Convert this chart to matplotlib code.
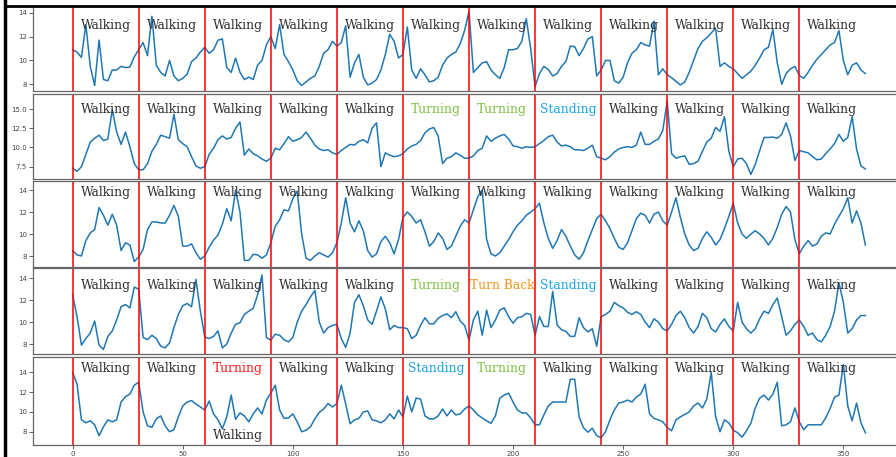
import numpy as np
import matplotlib.pyplot as plt
from matplotlib.transforms import blended_transform_factory

# one sample every 2 time steps, 0..360
t = np.arange(0, 361, 2)

row1 = [10.9, 10.7, 10.25, 13.0, 9.5, 7.9, 11.7, 8.4, 8.3, 9.2, 9.2, 9.5, 9.4, 9.45, 10.3,
        10.9, 11.5, 10.4, 13.7, 9.6, 9.0, 8.7, 10.0, 8.7, 8.3, 8.5, 8.85, 9.9, 10.2, 10.7,
        11.1, 10.6, 10.9, 11.7, 11.8, 9.4, 9.0, 10.2, 9.0, 8.4, 8.6, 8.4, 9.6, 10.0, 11.3,
        12.0, 11.0, 13.0, 10.5, 9.9, 9.2, 8.3, 7.9, 8.2, 8.5, 8.7, 9.5, 10.6, 10.9, 11.6,
        11.2, 11.5, 12.9, 8.6, 9.8, 10.5, 8.6, 7.95, 8.1, 8.4, 9.2, 10.5, 12.2, 11.6, 10.2,
        10.5, 12.8, 9.2, 8.5, 9.3, 8.8, 8.2, 8.3, 8.6, 9.6, 10.2, 10.5, 10.7, 11.4, 12.5,
        14.1, 9.0, 9.4, 9.8, 9.9, 9.2, 8.8, 8.5, 9.4, 10.9, 10.9, 11.0, 11.6, 13.5, 11.0,
        7.8, 8.9, 9.5, 9.25, 8.7, 8.9, 9.5, 9.9, 11.2, 11.15, 10.4, 11.0, 11.8, 12.0, 8.7,
        9.2, 10.0, 10.0, 8.3, 8.1, 8.6, 9.8, 10.6, 10.9, 11.5, 11.3, 11.2, 13.3, 8.8, 9.3,
        8.8, 8.55, 8.25, 7.95, 8.2, 9.0, 10.0, 11.0, 11.6, 11.9, 12.3, 12.7, 9.5, 9.8, 9.5,
        9.3, 8.9, 8.5, 8.8, 9.1, 9.6, 10.2, 10.9, 11.1, 12.6, 9.8, 8.0, 8.9, 9.3, 9.5,
        8.75, 8.5, 9.0, 9.6, 10.1, 10.5, 10.9, 11.3, 11.5, 12.5, 10.0, 8.8, 9.6, 9.8, 9.2,
        8.9]

row2 = [7.3, 6.9, 7.5, 9.1, 10.7, 11.2, 11.6, 10.9, 11.1, 14.9, 12.0, 10.4, 12.0, 10.1, 7.9,
        7.1, 7.1, 7.9, 9.5, 10.4, 11.6, 11.4, 11.2, 14.3, 11.0, 10.5, 10.1, 8.8, 7.6, 7.3,
        7.5, 9.1, 9.9, 11.0, 11.5, 11.1, 11.3, 12.5, 13.3, 9.0, 9.8, 9.2, 8.9, 8.5, 8.2,
        8.6, 9.9, 9.7, 10.5, 11.4, 10.8, 11.0, 11.3, 12.0, 11.2, 10.3, 9.8, 9.6, 9.7, 9.3,
        9.1, 9.6, 10.0, 10.4, 10.3, 10.8, 11.0, 10.6, 12.5, 13.2, 7.5, 9.3, 9.0, 8.8, 8.9,
        9.2, 9.8, 10.2, 10.4, 10.9, 11.9, 12.4, 12.6, 11.5, 7.9, 8.6, 8.8, 9.3, 9.0, 8.6,
        8.6, 8.9, 9.6, 9.9, 11.5, 10.8, 11.2, 11.5, 11.7, 11.1, 10.2, 10.1, 9.9, 10.1, 10.0,
        10.1, 10.5, 10.9, 11.4, 11.6, 10.7, 10.2, 10.3, 10.1, 9.7, 9.7, 9.6, 9.9, 10.3, 8.8,
        8.6, 8.4, 8.8, 9.4, 9.8, 10.0, 10.1, 10.0, 10.3, 12.0, 10.4, 10.4, 10.8, 11.1, 12.2,
        16.0, 9.2, 8.6, 8.8, 8.9, 7.8, 7.9, 8.2, 9.5, 10.7, 11.2, 12.6, 12.1, 14.0, 9.5,
        7.5, 8.5, 8.6, 7.9, 6.5, 7.8, 9.6, 11.3, 11.3, 11.35, 11.2, 11.7, 13.2, 11.5, 8.3,
        9.6, 9.45, 9.3, 8.8, 8.4, 8.5, 9.2, 9.8, 10.5, 11.7, 10.8, 11.3, 14.0, 9.8, 7.6,
        7.2]

row3 = [8.5, 8.1, 8.0, 9.4, 10.1, 10.4, 12.4, 11.7, 10.8, 11.8, 10.8, 8.5, 9.2, 9.0, 7.5,
        7.9, 8.6, 10.4, 11.1, 11.1, 11.0, 11.0, 11.7, 12.6, 11.6, 8.9, 8.9, 9.1, 8.3, 7.7,
        8.0, 8.8, 9.45, 9.9, 10.9, 12.3, 11.2, 14.0, 12.0, 7.6, 7.6, 8.15, 8.1, 7.8, 8.1,
        9.2, 10.7, 11.3, 12.2, 12.1, 13.2, 13.9, 10.0, 7.8, 7.6, 8.0, 8.3, 8.1, 7.9, 8.3,
        9.2, 11.0, 13.3, 11.0, 10.2, 11.2, 10.3, 8.5, 7.9, 8.2, 9.3, 9.8, 9.2, 8.2, 9.5,
        11.5, 12.0, 11.6, 11.0, 11.3, 10.2, 8.9, 9.3, 10.1, 9.6, 8.6, 8.9, 9.8, 10.7, 11.3,
        11.0, 12.2, 13.4, 14.0, 9.5, 8.2, 8.0, 8.3, 8.9, 9.5, 10.2, 10.8, 11.2, 11.7, 12.0,
        12.3, 12.8, 11.0, 9.6, 8.7, 9.4, 10.4, 9.8, 8.9, 8.1, 7.7, 8.3, 9.4, 10.4, 11.4,
        11.8, 11.2, 10.5, 9.6, 8.8, 8.6, 9.2, 10.3, 11.4, 11.9, 11.7, 11.0, 11.8, 12.0, 11.2,
        10.8, 12.0, 13.3, 11.5, 10.0, 9.0, 8.5, 8.7, 9.6, 10.2, 9.7, 9.0, 9.5, 10.5, 11.6,
        12.8, 11.0, 10.0, 9.6, 10.0, 10.3, 10.0, 9.6, 9.0, 9.6, 10.6, 11.8, 12.5, 12.0, 9.5,
        8.2, 8.9, 9.4, 8.9, 9.1, 9.8, 10.1, 10.0, 10.9, 11.6, 12.3, 13.3, 11.0, 12.1, 11.0,
        9.0]

row4 = [12.5, 10.5, 7.9, 8.5, 9.0, 10.1, 7.9, 7.5, 8.7, 9.2, 10.2, 11.4, 11.6, 11.3, 13.2,
        13.0, 8.6, 8.4, 8.8, 8.5, 7.8, 7.65, 8.1, 9.5, 10.7, 11.5, 11.7, 11.4, 13.9, 11.0,
        8.65, 8.5, 8.7, 9.2, 7.65, 8.0, 9.0, 9.8, 9.95, 10.7, 11.0, 11.25, 12.5, 14.3, 8.6,
        8.35, 8.9, 8.8, 8.4, 8.2, 8.6, 10.0, 11.0, 11.6, 12.3, 12.9, 10.0, 9.0, 9.5, 9.7,
        9.8, 8.5, 7.7, 9.0, 11.8, 12.5, 11.5, 10.2, 9.8, 11.0, 12.3, 11.2, 9.3, 9.7, 9.5,
        9.5, 9.4, 8.5, 8.8, 9.7, 10.4, 9.85, 9.85, 10.35, 10.6, 10.75, 10.4, 10.95, 10.1, 9.7,
        8.35, 10.2, 11.0, 8.8, 11.1, 9.5, 10.2, 11.1, 11.3, 10.5, 9.9, 10.4, 10.5, 10.8, 10.7,
        8.8, 10.5, 9.6, 9.6, 12.8, 9.75, 9.3, 9.15, 8.7, 8.7, 10.4, 9.5, 9.1, 9.4, 7.8,
        10.5, 10.7, 11.0, 11.8, 11.5, 11.3, 10.9, 10.7, 10.95, 10.7, 10.0, 9.5, 10.3, 10.0, 9.4,
        9.2, 9.8, 10.6, 11.0, 10.4, 9.5, 9.0, 9.6, 10.8, 10.4, 9.4, 9.1, 9.8, 10.3, 9.6,
        9.2, 11.8, 10.0, 9.4, 9.0, 9.4, 10.3, 11.0, 10.8, 11.6, 12.2, 10.5, 8.8, 9.2, 9.8,
        10.2, 9.6, 8.8, 9.0, 8.4, 8.2, 8.8, 9.6, 11.0, 13.6, 11.8, 9.0, 9.4, 10.2, 10.6,
        10.6]

row5 = [14.0, 12.8, 9.2, 8.9, 9.1, 8.7, 7.6, 8.5, 9.2, 9.0, 9.2, 11.0, 11.55, 11.8, 12.7,
        13.0, 10.0, 8.6, 8.45, 9.3, 9.6, 8.6, 8.0, 8.2, 9.5, 10.6, 11.0, 11.15, 10.8, 10.5,
        10.2, 11.1, 9.8, 9.2, 8.3, 9.5, 11.7, 9.25, 9.9, 9.6, 9.0, 9.8, 10.4, 9.8, 11.2,
        11.9, 12.7, 10.2, 9.35, 9.4, 9.8, 9.0, 8.0, 8.15, 8.5, 9.3, 9.95, 10.3, 10.85, 10.5,
        10.85, 12.7, 10.8, 8.8, 9.2, 9.35, 10.0, 10.1, 9.2, 9.1, 8.9, 9.2, 9.8, 9.3, 10.2,
        9.5, 11.6, 10.0, 11.4, 11.3, 9.6, 9.3, 9.3, 9.6, 10.3, 9.6, 10.2, 9.7, 9.8, 10.3,
        10.6, 10.2, 9.7, 9.4, 9.1, 8.85, 9.6, 11.4, 11.7, 11.9, 11.0, 10.2, 9.9, 9.9, 9.4,
        8.7, 8.7, 9.7, 10.6, 11.0, 11.0, 11.0, 11.0, 13.3, 13.3, 9.5, 8.4, 7.95, 8.35, 7.6,
        7.4, 8.0, 9.2, 10.2, 10.9, 11.0, 11.2, 11.0, 11.5, 11.8, 12.8, 9.8, 9.35, 9.2, 9.0,
        8.45, 8.1, 9.2, 9.5, 9.75, 10.0, 10.6, 10.9, 10.4, 11.3, 14.0, 9.5, 8.0, 9.2, 8.9,
        8.15, 7.9, 7.45, 8.1, 8.85, 10.4, 11.4, 11.7, 11.2, 11.8, 13.0, 8.6, 8.7, 9.0, 10.4,
        9.0, 8.2, 8.7, 8.7, 8.7, 8.7, 9.4, 10.35, 11.5, 11.7, 14.8, 10.6, 9.1, 10.9, 8.9,
        7.9]

# segment borders and activity labels
borders = list(range(0, 360, 30))
W = "Walking"
labels1 = [W] * 12
labels2 = [W, W, W, W, W, "Turning", "Turning", "Standing", W, W, W, W]
labels3 = [W] * 12
labels4 = [W, W, W, W, W, "Turning", "Turn Back", "Standing", W, W, W, W]
labels5 = [W, W, "Turning", W, W, "Standing", "Turning", W, W, W, W, W]

GRAY, GREEN, BLUE, ORANGE, RED = "#2e2e2e", "#7cc142", "#1ba1e2", "#f7941d", "#ff1a1a"
colors1 = [GRAY] * 12
colors2 = [GRAY] * 5 + [GREEN, GREEN, BLUE] + [GRAY] * 4
colors3 = [GRAY] * 12
colors4 = [GRAY] * 5 + [GREEN, ORANGE, BLUE] + [GRAY] * 4
colors5 = [GRAY, GRAY, RED, GRAY, GRAY, BLUE, GREEN] + [GRAY] * 5

rows = [row1, row2, row3, row4, row5]
all_labels = [labels1, labels2, labels3, labels4, labels5]
all_colors = [colors1, colors2, colors3, colors4, colors5]

# layout (pixels from top)
W_PX, H_PX = 896, 457
panels = [(6, 91), (94, 179), (181, 267), (268, 354), (357, 445)]
ylims = [(7.44, 14.56), (5.9, 16.95), (7.0, 14.82), (7.09, 14.94), (6.66, 15.55)]
yticks = [[8, 10, 12, 14], [7.5, 10.0, 12.5, 15.0], [8, 10, 12, 14], [8, 10, 12, 14], [8, 10, 12, 14]]
label_y = [0.775, 0.82, 0.865, 0.80, 0.865]

fig = plt.figure(figsize=(W_PX / 100, H_PX / 100), dpi=100)

for i, (top, bot) in enumerate(panels):
    ax = fig.add_axes([33 / W_PX, (H_PX - bot) / H_PX, 872 / W_PX, (bot - top) / H_PX])
    y = np.array(rows[i])
    assert len(y) == len(t)
    ax.plot(t, y, color="#1f77b4", lw=1.1)
    for b in borders:
        ax.axvline(b, color="red", lw=1.1)
    ax.set_xlim(-18, 378)
    ax.set_ylim(*ylims[i])
    ax.set_yticks(yticks[i])
    if i == 1:
        ax.set_yticklabels(["7.5", "10.0", "12.5", "15.0"])
    ax.tick_params(labelsize=5, colors="#444444", length=3, width=0.6, pad=1.5)
    for s in ax.spines.values():
        s.set_color("#666666")
        s.set_linewidth(0.9)
    if i < 4:
        ax.set_xticks([])
    else:
        ax.set_xticks(range(0, 351, 50))
    trans = blended_transform_factory(ax.transData, ax.transAxes)
    for k, (lab, col) in enumerate(zip(all_labels[i], all_colors[i])):
        ax.text(borders[k] + 15, label_y[i], lab, transform=trans, ha="center", va="center",
                fontsize=8.8, color=col, family="DejaVu Serif", fontweight="medium")
    if i == 4:
        ax.text(75, 0.11, "Walking", transform=trans, ha="center", va="center",
                fontsize=8.8, color=GRAY, family="DejaVu Serif", fontweight="medium")

# screenshot border
fig.add_artist(plt.Line2D([5 / W_PX, 5 / W_PX], [0, 1], color="black", lw=2.5))
fig.add_artist(plt.Line2D([5 / W_PX, 1], [(H_PX - 6) / H_PX] * 2, color="black", lw=2))

fig.savefig("out.png", dpi=100)
